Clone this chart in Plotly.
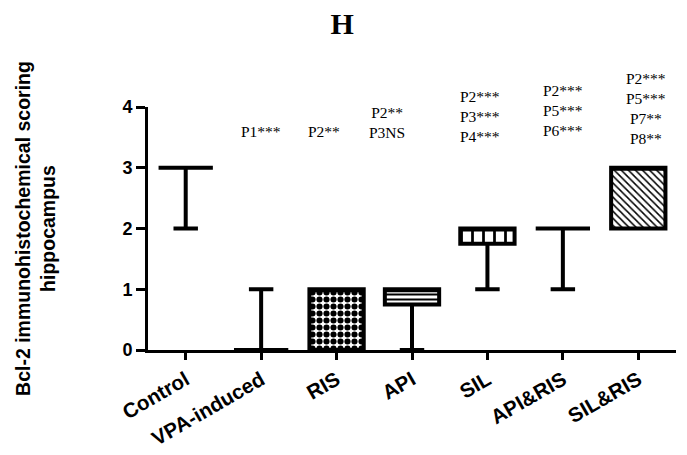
import plotly.graph_objects as go

categories = ["Control", "VPA-induced", "RIS", "API", "SIL", "API&RIS", "SIL&RIS"]
q1 = [3, 0, 0, 0.75, 1.75, 2, 2]
median = [3, 0, 1, 1, 2, 2, 3]
q3 = [3, 0, 1, 1, 2, 2, 3]
lower = [2, 0, 0, 0, 1, 1, 2]
upper = [3, 1, 1, 1, 2, 2, 3]
patterns = ["", "", ".", "-", "|", "", "\\"]
pattern_sizes = [6, 6, 7, 5, 11, 6, 5]
pattern_solidity = [0.3, 0.3, 0.6, 0.4, 0.25, 0.3, 0.3]

sig_labels = ["", "P1***", "P2**", "P2**<br>P3NS", "P2***<br>P3***<br>P4***",
              "P2***<br>P5***<br>P6***", "P2***<br>P5***<br>P7**<br>P8**"]
sig_y = [0, 3.59, 3.59, 3.75, 3.84, 3.95, 3.97]
sig_dx = [0, 0, -0.17, -0.33, -0.1, 0, 0.1]

fig = go.Figure()

fig.add_trace(go.Bar(
    x=categories,
    y=[b - a for a, b in zip(q1, q3)],
    base=q1,
    width=0.72,
    marker=dict(
        color="white",
        line=dict(width=0),
        pattern=dict(shape=patterns, size=pattern_sizes, solidity=pattern_solidity,
                     fgcolor="black", bgcolor="white", fillmode="replace"),
    ),
    hoverinfo="skip",
))

fig.add_trace(go.Box(
    x=categories,
    q1=q1, median=median, q3=q3,
    lowerfence=lower, upperfence=upper,
    width=0.72,
    whiskerwidth=0.45,
    fillcolor="rgba(0,0,0,0)",
    line=dict(color="black", width=4),
    boxpoints=False,
))

for i, (lab, yy, dx) in enumerate(zip(sig_labels, sig_y, sig_dx)):
    if not lab:
        continue
    fig.add_annotation(
        x=i + dx, y=yy, xref="x", yref="y", text=lab, showarrow=False,
        font=dict(family="Liberation Serif, Times New Roman, serif", size=15.5, color="black"),
        xanchor="center", yanchor="middle",
    )

fig.update_layout(
    width=679, height=447,
    margin=dict(l=140, r=11, t=99, b=105, autoexpand=False),
    paper_bgcolor="white", plot_bgcolor="white",
    showlegend=False,
    barmode="overlay",
    title=dict(text="<b>H</b>", x=0.492, xanchor="center", y=0.965, yanchor="middle",
               font=dict(family="Liberation Serif, Times New Roman, serif", size=30, color="black")),
    xaxis=dict(
        range=[-0.5, 6.5], showline=True, linewidth=3, linecolor="black",
        ticks="outside", ticklen=7, tickwidth=3, tickcolor="black",
        tickangle=-30, showgrid=False, zeroline=False, automargin=False,
        tickfont=dict(family="Liberation Sans, Arial, sans-serif", size=20.5, color="black", weight="bold"),
    ),
    yaxis=dict(
        range=[0, 4], dtick=1, showline=True, linewidth=3, linecolor="black",
        ticks="outside", ticklen=9, tickwidth=3, tickcolor="black",
        showgrid=False, zeroline=False, automargin=False,
        tickfont=dict(family="Liberation Sans, Arial, sans-serif", size=18, color="black", weight="bold"),
        title=dict(text="Bcl-2 immunohistochemical scoring<br>hippocampus", standoff=62,
                   font=dict(family="Liberation Sans, Arial, sans-serif",
                             size=19.5, color="black", weight="bold")),
    ),
)

fig.write_html("out.html")
